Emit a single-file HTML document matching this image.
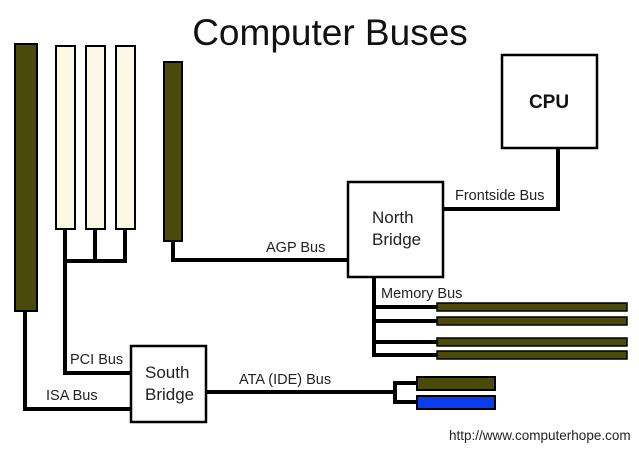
<!DOCTYPE html>
<html><head><meta charset="utf-8"><style>
html,body{margin:0;padding:0;background:#fff;width:639px;height:453px;overflow:hidden}
</style></head><body>
<svg width="639" height="453" viewBox="0 0 639 453" xmlns="http://www.w3.org/2000/svg" font-family="Liberation Sans, Arial, sans-serif">
<text x="330" y="45" font-size="37" text-anchor="middle" fill="#111">Computer Buses</text>
<g fill="none" stroke="#000" stroke-width="4">
<polyline points="25,311 25,409 131,409"/>
<polyline points="65,229 65,373 131,373"/>
<line x1="63" y1="261" x2="127" y2="261"/>
<line x1="95" y1="229" x2="95" y2="261"/>
<line x1="125" y1="229" x2="125" y2="261"/>
<polyline points="173,241 173,260 348,260"/>
<polyline points="443,209 558,209 558,148"/>
<polyline points="374,277 374,355 437,355"/>
<line x1="374" y1="307" x2="437" y2="307"/>
<line x1="374" y1="321" x2="437" y2="321"/>
<line x1="374" y1="342" x2="437" y2="342"/>
<line x1="207" y1="392" x2="395" y2="392"/>
<polyline points="417,383 395,383 395,402 417,402"/>
</g>
<g stroke="#000" stroke-width="2">
<rect x="15" y="44" width="22" height="267" fill="#4a4a0a"/>
<rect x="56" y="46" width="19" height="183" fill="#fafae4"/>
<rect x="86" y="46" width="19" height="183" fill="#fafae4"/>
<rect x="116" y="46" width="19" height="183" fill="#fafae4"/>
<rect x="164" y="62" width="18" height="179" fill="#4a4a0a"/>
<rect x="437" y="303" width="190" height="8" fill="#4a4a0a" stroke-width="1.5"/>
<rect x="437" y="317" width="190" height="8" fill="#4a4a0a" stroke-width="1.5"/>
<rect x="437" y="338" width="190" height="8" fill="#4a4a0a" stroke-width="1.5"/>
<rect x="437" y="351" width="190" height="8" fill="#4a4a0a" stroke-width="1.5"/>
<rect x="417" y="377" width="78" height="13" fill="#4a4a0a"/>
<rect x="417" y="396" width="78" height="13" fill="#0a3cf0"/>
<rect x="131" y="346" width="75" height="76" fill="#fff" stroke-width="2.5"/>
<rect x="348" y="182" width="95" height="95" fill="#fff" stroke-width="2.5"/>
<rect x="502" y="55" width="95" height="93" fill="#fff" stroke-width="2.5"/>
</g>
<g fill="#222" font-size="14.5">
<text x="266" y="252">AGP Bus</text>
<text x="455" y="200">Frontside Bus</text>
<text x="381" y="298">Memory Bus</text>
<text x="70" y="364">PCI Bus</text>
<text x="46" y="400">ISA Bus</text>
<text x="239" y="384">ATA (IDE) Bus</text>
<text x="449" y="440" font-size="13.5">http://www.computerhope.com</text>
</g>
<g fill="#222" font-size="17">
<text x="145" y="378">South</text>
<text x="145" y="400">Bridge</text>
<text x="372" y="223">North</text>
<text x="372" y="245">Bridge</text>
</g>
<text x="549" y="108" font-size="19" font-weight="bold" text-anchor="middle" fill="#111">CPU</text>
</svg>
</body></html>
